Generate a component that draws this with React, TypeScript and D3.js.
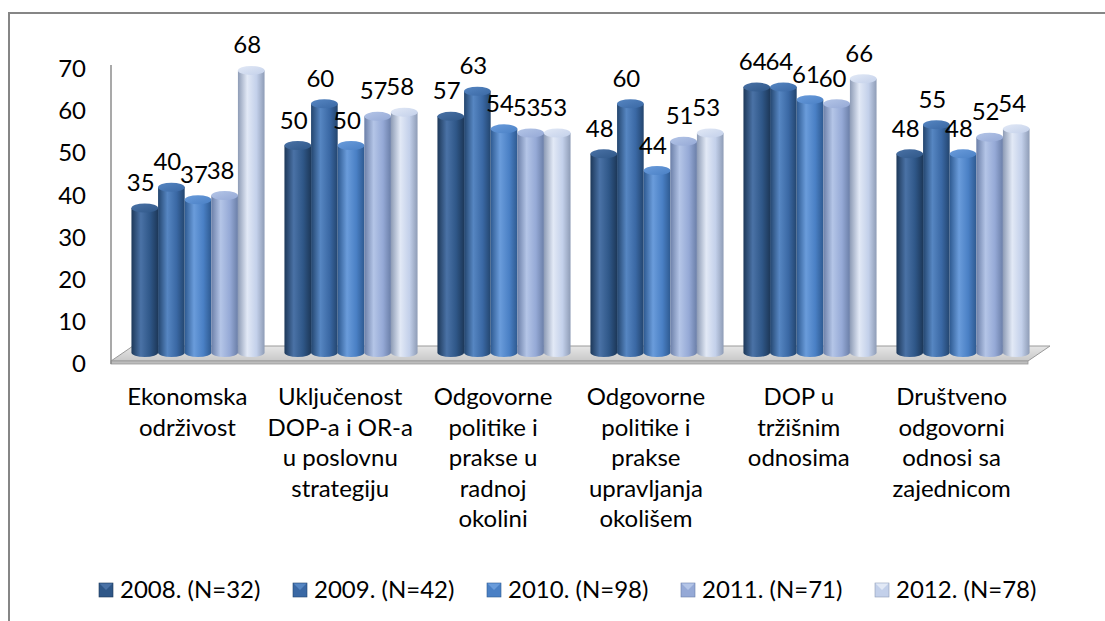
import * as d3 from 'd3';

const categories = [
  ['Ekonomska', 'održivost'],
  ['Uključenost', 'DOP-a i OR-a', 'u poslovnu', 'strategiju'],
  ['Odgovorne', 'politike i', 'prakse u', 'radnoj', 'okolini'],
  ['Odgovorne', 'politike i', 'prakse', 'upravljanja', 'okolišem'],
  ['DOP u', 'tržišnim', 'odnosima'],
  ['Društveno', 'odgovorni', 'odnosi sa', 'zajednicom'],
];

const seriesNames = ['2008. (N=32)', '2009. (N=42)', '2010. (N=98)', '2011. (N=71)', '2012. (N=78)'];

const v2008 = [35, 50, 57, 48, 64, 48];
const v2009 = [40, 60, 63, 60, 64, 55];
const v2010 = [37, 50, 54, 44, 61, 48];
const v2011 = [38, 57, 53, 51, 60, 52];
const v2012 = [68, 58, 53, 53, 66, 54];
const seriesValues = [v2008, v2009, v2010, v2011, v2012];

const yTicks = [0, 10, 20, 30, 40, 50, 60, 70];

// dark edge, highlight, body
const shades = [
  ['#1d3859', '#4a72a6', '#2f5788'],
  ['#23456e', '#5686c2', '#3a68a4'],
  ['#2e5a91', '#6a9cdb', '#4a80c5'],
  ['#6b7fa8', '#b4c5e7', '#95a9d6'],
  ['#8e9cb6', '#e2e9f6', '#c3d0ea'],
];

const FONT = 'Lato, "Open Sans", sans-serif';

export default function App() {
  const W = 1105;
  const H = 621;

  const axisY = d3.scaleLinear().domain([0, 70]).range([364, 68.5]);
  const barY = d3.scaleLinear().domain([0, 70]).range([354, 354 - 70 * 4.17]);
  const barBottom = 352.5;
  const ry = 4.5;

  const groupX = d3.scaleBand<number>().domain(d3.range(6)).range([121.5, 1039.5]).paddingInner(0.13).paddingOuter(0.065);
  const barX = d3.scaleBand<number>().domain(d3.range(5)).range([0, groupX.bandwidth()]);
  const labelX = d3.scaleBand<number>().domain(d3.range(6)).range([111, 1028]);
  const legendX = d3.scaleLinear().domain([0, 1]).range([99, 293]);

  const floor = d3.line()([[111, 361], [1028, 361], [1050, 346], [133, 346]]) + 'Z';

  return (
    <svg width={W} height={H} style={{ position: 'absolute', left: 0, top: 0 }} fontFamily={FONT}>
      <defs>
        {shades.map((s, i) => (
          <g key={i}>
            <linearGradient id={`body${i}`} x1="0" x2="1" y1="0" y2="0">
              <stop offset="0" stopColor={s[0]} />
              <stop offset="0.35" stopColor={s[1]} />
              <stop offset="0.7" stopColor={s[2]} />
              <stop offset="1" stopColor={s[0]} />
            </linearGradient>
            <linearGradient id={`top${i}`} x1="0" x2="1" y1="0" y2="1">
              <stop offset="0" stopColor={s[1]} />
              <stop offset="1" stopColor={s[2]} />
            </linearGradient>
          </g>
        ))}
        <linearGradient id="floorGrad" x1="0" x2="0" y1="0" y2="1">
          <stop offset="0" stopColor="#e6e6e6" />
          <stop offset="1" stopColor="#c8c8c8" />
        </linearGradient>
      </defs>

      <rect width={W} height={H} fill="#fff" />
      <path d="M9,621 L9,13 L1105,13" fill="none" stroke="#868686" strokeWidth={2} />

      {/* floor */}
      <path d={floor} fill="url(#floorGrad)" stroke="#9a9a9a" strokeWidth={1} />
      <rect x={111} y={361} width={917} height={3} fill="#bdbdbd" stroke="#9a9a9a" strokeWidth={0.8} />
      <line x1={111} x2={111} y1={65} y2={364} stroke="#8c8c8c" strokeWidth={1.5} />

      {/* y tick labels */}
      {yTicks.map((t) => (
        <text key={t} x={86} y={axisY(t)} dy="0.35em" textAnchor="end" fontSize={24} fill="#000">
          {t}
        </text>
      ))}

      {/* bars */}
      {categories.map((_, ci) => (
        <g key={ci} transform={`translate(${groupX(ci)},0)`}>
          {seriesValues.map((vals, si) => {
            const x0 = barX(si) as number;
            const w = barX.bandwidth();
            const rx = w / 2;
            const top = barY(vals[ci]);
            const body = `M${x0},${top} L${x0},${barBottom} A${rx},${ry} 0 0 0 ${x0 + w},${barBottom} L${x0 + w},${top} Z`;
            return (
              <g key={si}>
                <path d={body} fill={`url(#body${si})`} />
                <ellipse cx={x0 + rx} cy={top} rx={rx} ry={ry} fill={`url(#top${si})`} />
              </g>
            );
          })}
        </g>
      ))}

      {/* data labels */}
      {categories.map((_, ci) => (
        <g key={ci} transform={`translate(${groupX(ci)},0)`}>
          {seriesValues.map((vals, si) => (
            <text
              key={si}
              x={(barX(si) as number) + barX.bandwidth() / 2 - 4}
              y={barY(vals[ci]) - 17}
              textAnchor="middle"
              fontSize={24}
              fill="#000"
            >
              {vals[ci]}
            </text>
          ))}
        </g>
      ))}

      {/* category labels */}
      {categories.map((lines, ci) => (
        <text key={ci} textAnchor="middle" fontSize={24} fill="#000">
          {lines.map((l, li) => (
            <tspan key={li} x={(labelX(ci) as number) + labelX.bandwidth() / 2} y={405 + li * 30.5}>
              {l}
            </tspan>
          ))}
        </text>
      ))}

      {/* legend */}
      {seriesNames.map((name, si) => {
        const x = legendX(si);
        return (
          <g key={si} transform={`translate(${x},583)`}>
            <rect width={14} height={14} fill={shades[si][2]} stroke={shades[si][0]} strokeWidth={0.6} />
            <path d="M0.5,0.5 L13.5,0.5 L7,7 Z" fill={shades[si][1]} />
            <text x={21} y={7} dy="0.35em" fontSize={24} fill="#000">
              {name}
            </text>
          </g>
        );
      })}
    </svg>
  );
}
